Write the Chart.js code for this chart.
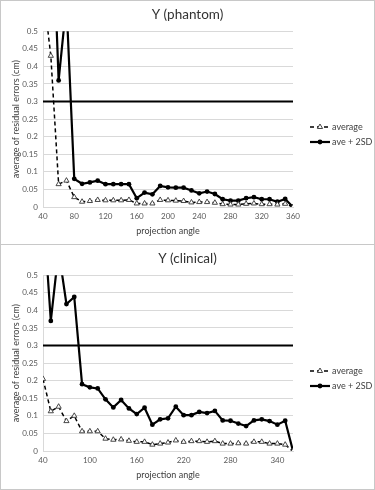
<!DOCTYPE html>
<html>
<head>
<meta charset="utf-8">
<script src="https://cdn.jsdelivr.net/npm/chart.js@4/dist/chart.umd.min.js"></script>
<style>
body { margin: 0; background: #fff; }
.box { width: 375px; height: 245px; box-sizing: border-box; border: 1px solid #c8c8c8; }
.box + .box { border-top: none; }
canvas { display: block; }
</style>
</head>
<body>
<div class="box"><canvas id="phantom" width="373" height="243"></canvas></div>
<div class="box"><canvas id="clinical" width="373" height="243"></canvas></div>
<script>
const angles = [40, 50, 60, 70, 80, 90, 100, 110, 120, 130, 140, 150, 160, 170, 180, 190, 200,
    210, 220, 230, 240, 250, 260, 270, 280, 290, 300, 310, 320, 330, 340, 350, 360];

const phantomAverage = [0.62, 0.43, 0.065, 0.075, 0.028, 0.015, 0.017, 0.02, 0.019, 0.019, 0.019,
    0.02, 0.01, 0.01, 0.01, 0.02, 0.019, 0.018, 0.017, 0.013, 0.014, 0.014, 0.012, 0.008, 0.007,
    0.007, 0.009, 0.01, 0.008, 0.008, 0.007, 0.009, 0];
const phantomAve2SD = [1.3, 0.95, 0.36, 0.58, 0.08, 0.066, 0.07, 0.075, 0.065, 0.065, 0.065,
    0.065, 0.025, 0.041, 0.036, 0.06, 0.056, 0.055, 0.055, 0.047, 0.039, 0.044, 0.037, 0.022, 0.018,
    0.018, 0.025, 0.028, 0.022, 0.022, 0.015, 0.023, 0];

const clinicalAverage = [0.205, 0.113, 0.126, 0.085, 0.1, 0.056, 0.056, 0.056, 0.035, 0.032, 0.033,
    0.029, 0.026, 0.026, 0.018, 0.021, 0.024, 0.03, 0.026, 0.028, 0.028, 0.026, 0.028, 0.021, 0.021,
    0.022, 0.021, 0.026, 0.026, 0.021, 0.021, 0.018, 0];
const clinicalAve2SD = [0.7, 0.37, 0.57, 0.418, 0.438, 0.19, 0.181, 0.178, 0.147, 0.124, 0.145,
    0.121, 0.105, 0.123, 0.075, 0.09, 0.093, 0.126, 0.102, 0.102, 0.111, 0.108, 0.114, 0.087, 0.086,
    0.078, 0.071, 0.087, 0.09, 0.085, 0.075, 0.086, 0];

// horizontal limit line
const limitAngles = [40, 360];
const limitValues = [0.3, 0.3];

const phantomTicks = [40, 80, 120, 160, 200, 240, 280, 320, 360];
const clinicalTicks = [40, 100, 160, 220, 280, 340];

Chart.defaults.font.family = "Lato, 'Open Sans', sans-serif";

function points(xs, ys) {
    return xs.map((x, i) => ({ x: x, y: ys[i] }));
}

// legend drawn at the right like the Excel one
const sideLegend = {
    id: "sideLegend",
    afterDraw(chart) {
        const ctx = chart.ctx;
        const items = chart.data.datasets.filter(d => d.label);
        items.forEach((ds, i) => {
            const y = 126 + i * 15;
            ctx.save();
            ctx.strokeStyle = ds.borderColor;
            ctx.lineWidth = ds.borderWidth;
            ctx.setLineDash(ds.borderDash || []);
            ctx.beginPath();
            ctx.moveTo(309, y);
            ctx.lineTo(329, y);
            ctx.stroke();
            ctx.setLineDash([]);
            ctx.fillStyle = ds.pointBackgroundColor;
            ctx.strokeStyle = ds.pointBorderColor;
            ctx.lineWidth = ds.pointBorderWidth;
            Chart.helpers.drawPoint(ctx, {
                pointStyle: ds.pointStyle,
                radius: ds.pointRadius,
                borderWidth: ds.pointBorderWidth,
                rotation: 0
            }, 319, y);
            ctx.fillStyle = "#404040";
            ctx.font = "9px Lato";
            ctx.textBaseline = "middle";
            ctx.fillText(ds.label, 331, y);
            ctx.restore();
        });
    }
};

function makeChart(id, title, average, ave2SD, xTicks) {
    return new Chart(document.getElementById(id), {
        type: "line",
        data: {
            datasets: [{
                label: "average",
                data: points(angles, average),
                borderColor: "#000",
                borderWidth: 1.5,
                borderDash: [4, 3],
                pointStyle: "triangle",
                pointRadius: 3,
                pointBackgroundColor: "#fff",
                pointBorderColor: "#333",
                pointBorderWidth: 0.9,
                yAxisID: "y"
            }, {
                label: "ave + 2SD",
                data: points(angles, ave2SD),
                borderColor: "#000",
                borderWidth: 2.2,
                pointStyle: "circle",
                pointRadius: 2.4,
                pointBackgroundColor: "#000",
                pointBorderColor: "#000",
                pointBorderWidth: 0,
                yAxisID: "y"
            }, {
                label: "",
                data: points(limitAngles, limitValues),
                borderColor: "#000",
                borderWidth: 2,
                pointRadius: 0,
                yAxisID: "y"
            }]
        },
        options: {
            responsive: false,
            animation: false,
            devicePixelRatio: 1,
            layout: { padding: 0 },
            plugins: {
                legend: { display: false },
                tooltip: { enabled: false },
                title: {
                    display: true,
                    text: title,
                    color: "#333",
                    font: { size: 13.5, weight: "normal" },
                    padding: { top: 6, bottom: 8 }
                }
            },
            scales: {
                x: {
                    type: "linear",
                    min: 40,
                    max: 360,
                    afterBuildTicks: s => { s.ticks = xTicks.map(v => ({ value: v })); },
                    afterFit: s => { s.height = 37; },
                    grid: { display: false, drawTicks: false },
                    border: { color: "#d9d9d9" },
                    ticks: { padding: 5, color: "#595959", font: { size: 8 }, maxRotation: 0, autoSkip: false },
                    title: {
                        display: true,
                        text: "projection angle",
                        color: "#404040",
                        font: { size: 9 },
                        padding: { top: 0, bottom: 8 }
                    }
                },
                y: {
                    min: 0,
                    max: 0.5,
                    afterFit: s => { s.width = 42; },
                    grid: { color: "#d9d9d9", drawTicks: false },
                    border: { color: "#d9d9d9" },
                    ticks: {
                        stepSize: 0.05,
                        padding: 5,
                        color: "#595959",
                        font: { size: 8 },
                        callback: v => String(+v.toFixed(2))
                    },
                    title: {
                        display: true,
                        text: "average of residual errors (cm)",
                        color: "#404040",
                        font: { size: 9 },
                        padding: { top: 10, bottom: 0 }
                    }
                },
                // empty axis that keeps room for the legend
                y2: {
                    position: "right",
                    grid: { display: false, drawTicks: false },
                    ticks: { display: false },
                    border: { display: false },
                    afterFit: s => { s.width = 81; }
                }
            }
        },
        plugins: [sideLegend]
    });
}

makeChart("phantom", "Y (phantom)", phantomAverage, phantomAve2SD, phantomTicks);
makeChart("clinical", "Y (clinical)", clinicalAverage, clinicalAve2SD, clinicalTicks);
</script>
</body>
</html>
